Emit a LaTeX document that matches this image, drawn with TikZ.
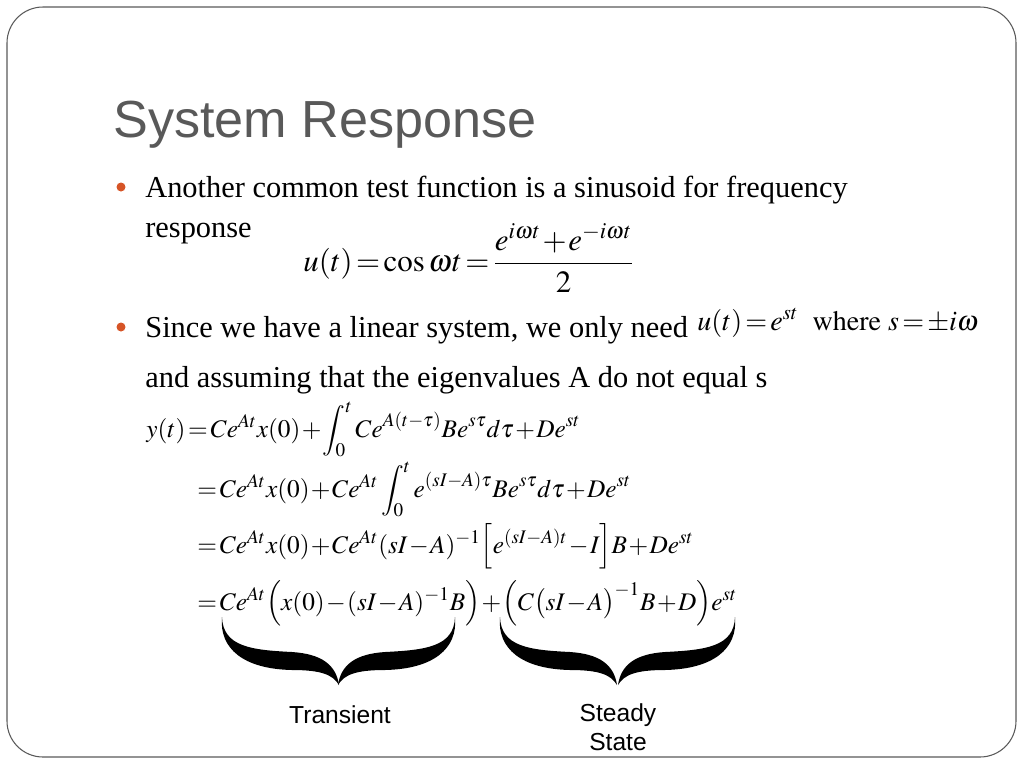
\documentclass[tikz,border=0pt]{standalone}
\usepackage{amssymb,amsmath}
\usepackage{mathptmx}
\usepackage[no-math]{fontspec}
\setmainfont{Liberation Serif}
\newfontfamily\titlefont{Liberation Sans}
\usepackage{tikz}
\usetikzlibrary{positioning}

\definecolor{slidegray}{RGB}{89,89,89}
\definecolor{bulletred}{RGB}{214,84,38}
\newcommand\tightmath{\thickmuskip=2mu\medmuskip=1mu}

\tikzset{
  halfbrace/.pic={
    \fill (0,0) .. controls (1,30) and (30,33) .. (70,35)
      .. controls (100,37) and (114,48) .. (117,68)
      .. controls (111,58) and (100,53) .. (70,53)
      .. controls (22,52) and (-3,32) .. (0,0) -- cycle;
  },
  bodytext/.style={anchor=base west, inner sep=0pt, font=\fontsize{17.3}{20}\selectfont},
  eqline/.style={anchor=base west, inner sep=0pt, font=\fontsize{14.4}{18}\selectfont\tightmath},
  bracelabel/.style={align=center, inner sep=0pt, font=\titlefont\fontsize{14}{16.5}\selectfont}
}

\begin{document}
\begin{tikzpicture}[x=0.02cm, y=-0.02cm]
  \useasboundingbox (0,0) rectangle (1024,768);
  \draw[slidegray, line width=0.6pt, rounded corners=0.72cm] (7,7) rectangle (1016,757);

  \node[anchor=base west, inner sep=0pt, text=slidegray,
        font=\titlefont\fontsize{29.7}{36}\selectfont] (title) at (113,137) {System Response};

  % bullets
  \fill[bulletred] (121,187) circle (4.5);
  \fill[bulletred] (121,327) circle (4.5);

  \node[bodytext] (line1) at (145,197) {Another common test function is a sinusoid for frequency};
  \node[bodytext] (line2) at (145,237) {response};
  \node[anchor=base west, inner sep=0pt, font=\fontsize{17.6}{21}\selectfont\tightmath] (cosine) at (303,271)
    {$u(t)=\cos\omega t=\dfrac{e^{i\omega t}+e^{-i\omega t}}{2}$};

  \node[bodytext] (line3) at (145,337) {Since we have a linear system, we only need};
  \node[anchor=base west, inner sep=0pt, font=\fontsize{16}{19}\selectfont\tightmath] (input) at (697,330)
    {$u(t)=e^{st}\ \ \mathrm{where}\ s=\pm i\omega$};
  \node[bodytext] (line4) at (145,387) {and assuming that the eigenvalues A do not equal s};

  % the response, step by step
  \node[eqline] (eqa) at (146,437)
    {$y(t)=Ce^{At}x(0)+\displaystyle\int_0^t Ce^{A(t-\tau)}Be^{s\tau}d\tau+De^{st}$};
  \node[eqline] (eqb) at (197,497)
    {$=Ce^{At}x(0)+Ce^{At}\displaystyle\int_0^t e^{(sI-A)\tau}Be^{s\tau}d\tau+De^{st}$};
  \node[eqline] (eqc) at (197,553)
    {$=Ce^{At}x(0)+Ce^{At}(sI-A)^{-1}\Big[e^{(sI-A)t}-I\Big]B+De^{st}$};
  \node[eqline] (eqd) at (197,610)
    {$=Ce^{At}\Big(x(0)-(sI-A)^{-1}B\Big)+\Big(C\big(sI-A\big)^{-1}B+D\Big)e^{st}$};

  % braces
  \pic at (222,617) {halfbrace};
  \pic[xscale=-1] at (455,617) {halfbrace};
  \pic at (500,617) {halfbrace};
  \pic[xscale=-1] at (735,617) {halfbrace};

  \node[bracelabel] (transient) at (340,715) {Transient};
  \node[bracelabel] (steady) at (618,727) {Steady\\State};
\end{tikzpicture}
\end{document}
